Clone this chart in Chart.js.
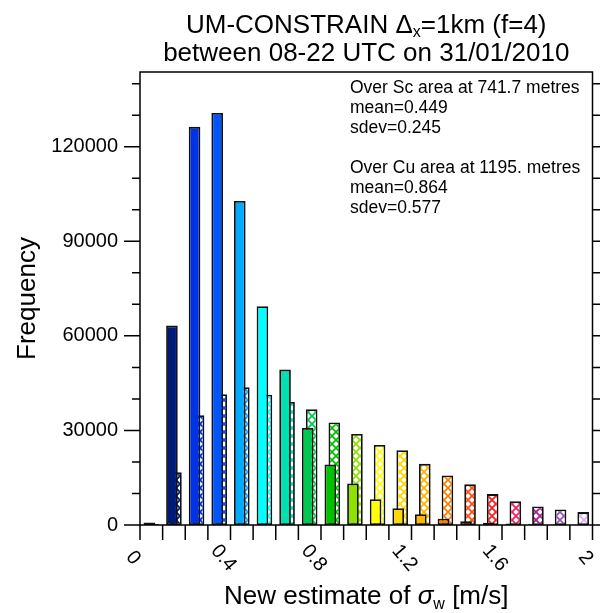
<!DOCTYPE html>
<html>
<head>
<meta charset="utf-8">
<script src="https://cdn.jsdelivr.net/npm/chart.js@4/dist/chart.umd.min.js"></script>
<style>
  html, body { margin: 0; padding: 0; background: #fff; }
</style>
</head>
<body>
<canvas id="histChart" width="600" height="613"></canvas>
<script>
// bins of sigma_w [m/s], 0.1 wide
const binCenters = [0.05, 0.15, 0.25, 0.35, 0.45, 0.55, 0.65, 0.75, 0.85, 0.95,
                    1.05, 1.15, 1.25, 1.35, 1.45, 1.55, 1.65, 1.75, 1.85, 1.95];
// Sc area (solid bars)
const scCounts = [800, 63300, 126300, 130700, 102800, 69400, 49300, 30800, 19200, 13200,
                  8200, 5300, 3400, 2000, 1200, 750, 500, 250, 120, 60];
// Cu area (hatched bars)
const cuCounts = [300, 16700, 34800, 41500, 43700, 41300, 39000, 36700, 32500, 28900,
                  25400, 23700, 19400, 15700, 12900, 9800, 7500, 5900, 4900, 4100];
const binColors = ["#000000", "#001a7a", "#0032e6", "#0055ff", "#00aaff", "#00ffff", "#00e0b0",
                   "#00c850", "#00c000", "#90e000", "#ffff00", "#ffd700", "#ffb400", "#ff8000",
                   "#ff4c14", "#ff1a1a", "#ff1a60", "#a8208c", "#a050c0", "#dcb4e8"];
const xTickValues = [0, 0.4, 0.8, 1.2, 1.6, 2];
const xTickLabels = ["0", "0.4", "0.8", "1.2", "1.6", "2"];
const yTickValues = [0, 30000, 60000, 90000, 120000];
const yTickLabels = ["0", "30000", "60000", "90000", "120000"];
const statsLines = ["Over Sc area at 741.7 metres", "mean=0.449", "sdev=0.245", "",
                    "Over Cu area at 1195. metres", "mean=0.864", "sdev=0.577"];

const FONT = '"Liberation Sans", Arial, Helvetica, sans-serif';

// cross-hatch fill, one per colour
function hatch(color) {
  const c = document.createElement("canvas");
  c.width = 8; c.height = 8;
  const g = c.getContext("2d");
  g.fillStyle = "#fff";
  g.fillRect(0, 0, 8, 8);
  g.strokeStyle = color;
  g.lineWidth = 1.8;
  g.beginPath();
  g.moveTo(-1, -1); g.lineTo(9, 9);
  g.moveTo(9, -1); g.lineTo(-1, 9);
  g.stroke();
  return g.createPattern(c, "repeat");
}

// frame, ticks, labels and texts drawn like NCL does
const ncarFrame = {
  id: "ncarFrame",
  afterDraw(chart) {
    const ctx = chart.ctx;
    const a = chart.chartArea;
    const xs = chart.scales.x, ys = chart.scales.y;
    ctx.save();
    ctx.strokeStyle = "#000";
    ctx.lineWidth = 1.5;
    ctx.strokeRect(a.left, a.top, a.right - a.left, a.bottom - a.top);

    ctx.beginPath();
    for (let v = 0; v <= ys.max; v += 10000) {
      const y = ys.getPixelForValue(v);
      const len = v % 30000 === 0 ? 16 : 8;
      ctx.moveTo(a.left - len, y); ctx.lineTo(a.left, y);
      ctx.moveTo(a.right, y); ctx.lineTo(a.right + 8, y);
    }
    for (let i = 0; i <= 20; i++) {
      const x = xs.getPixelForValue(i / 10);
      ctx.moveTo(x, a.bottom); ctx.lineTo(x, a.bottom + 15);
    }
    ctx.stroke();

    ctx.fillStyle = "#000";
    ctx.font = "20px " + FONT;
    ctx.textAlign = "right";
    ctx.textBaseline = "middle";
    yTickValues.forEach((v, i) => {
      ctx.fillText(yTickLabels[i], a.left - 22, ys.getPixelForValue(v));
    });

    ctx.textAlign = "center";
    xTickValues.forEach((v, i) => {
      const x = xs.getPixelForValue(v);
      ctx.save();
      ctx.translate(x - 7, a.bottom + 33);
      ctx.rotate(50 * Math.PI / 180);
      ctx.fillText(xTickLabels[i], 0, 0);
      ctx.restore();
    });

    // y title
    ctx.save();
    ctx.font = "26px " + FONT;
    ctx.translate(28, (a.top + a.bottom) / 2);
    ctx.rotate(-Math.PI / 2);
    ctx.fillText("Frequency", 0, 0);
    ctx.restore();

    // x title with sigma_w
    const cx = (a.left + a.right) / 2, by = 604;
    const p1 = "New estimate of ", p3 = " [m/s]";
    ctx.textBaseline = "alphabetic";
    ctx.textAlign = "left";
    ctx.font = "26px " + FONT;
    const w1 = ctx.measureText(p1).width, w3 = ctx.measureText(p3).width;
    ctx.font = "italic 26px " + FONT;
    const w2 = ctx.measureText("σ").width;
    ctx.font = "16px " + FONT;
    const ws = ctx.measureText("w").width;
    let x0 = cx - (w1 + w2 + ws + w3) / 2;
    ctx.font = "26px " + FONT;
    ctx.fillText(p1, x0, by); x0 += w1;
    ctx.font = "italic 26px " + FONT;
    ctx.fillText("σ", x0, by); x0 += w2;
    ctx.font = "16px " + FONT;
    ctx.fillText("w", x0, by + 5); x0 += ws;
    ctx.font = "26px " + FONT;
    ctx.fillText(p3, x0, by);

    // title, two lines, first with Delta_x
    ctx.font = "26px " + FONT;
    const t1a = "UM-CONSTRAIN \u0394", t1b = "=1km (f=4)";
    const wa = ctx.measureText(t1a).width, wb = ctx.measureText(t1b).width;
    ctx.font = "16px " + FONT;
    const wx = ctx.measureText("x").width;
    let tx = cx - (wa + wx + wb) / 2;
    ctx.font = "26px " + FONT;
    ctx.fillText(t1a, tx, 33); tx += wa;
    ctx.font = "16px " + FONT;
    ctx.fillText("x", tx, 37); tx += wx;
    ctx.font = "26px " + FONT;
    ctx.fillText(t1b, tx, 33);
    ctx.textAlign = "center";
    ctx.fillText("between 08-22 UTC on 31/01/2010", cx, 61);

    // stats text
    ctx.textAlign = "left";
    ctx.textBaseline = "middle";
    ctx.font = "17.5px " + FONT;
    statsLines.forEach((s, i) => ctx.fillText(s, 350, 88 + i * 20));
    ctx.restore();
  }
};

new Chart(document.getElementById("histChart"), {
  type: "bar",
  data: {
    datasets: [
      {
        label: "Sc",
        data: binCenters.map((x, i) => ({ x: x, y: scCounts[i] })),
        backgroundColor: binColors,
        borderColor: "#111",
        borderWidth: 1.8,
        borderSkipped: false,
      },
      {
        label: "Cu",
        data: binCenters.map((x, i) => ({ x: x, y: cuCounts[i] })),
        backgroundColor: binColors.map(hatch),
        borderColor: "#111",
        borderWidth: 1.8,
        borderSkipped: false,
      },
    ],
  },
  options: {
    responsive: false,
    animation: false,
    categoryPercentage: 0.354,
    barPercentage: 2.9,
    layout: { padding: { top: 72, right: 7.5, bottom: 0, left: 0 } },
    plugins: {
      legend: { display: false },
      tooltip: { enabled: false },
    },
    scales: {
      x: {
        type: "linear",
        min: 0,
        max: 2,
        offset: false,
        ticks: { display: false },
        grid: { display: false },
        border: { display: false },
        afterFit: (s) => { s.height = 88; },
      },
      y: {
        min: 0,
        max: 143700,
        ticks: { display: false },
        grid: { display: false, drawTicks: false },
        border: { display: false },
        afterFit: (s) => { s.width = 140; },
      },
    },
  },
  plugins: [ncarFrame],
});
</script>
</body>
</html>
